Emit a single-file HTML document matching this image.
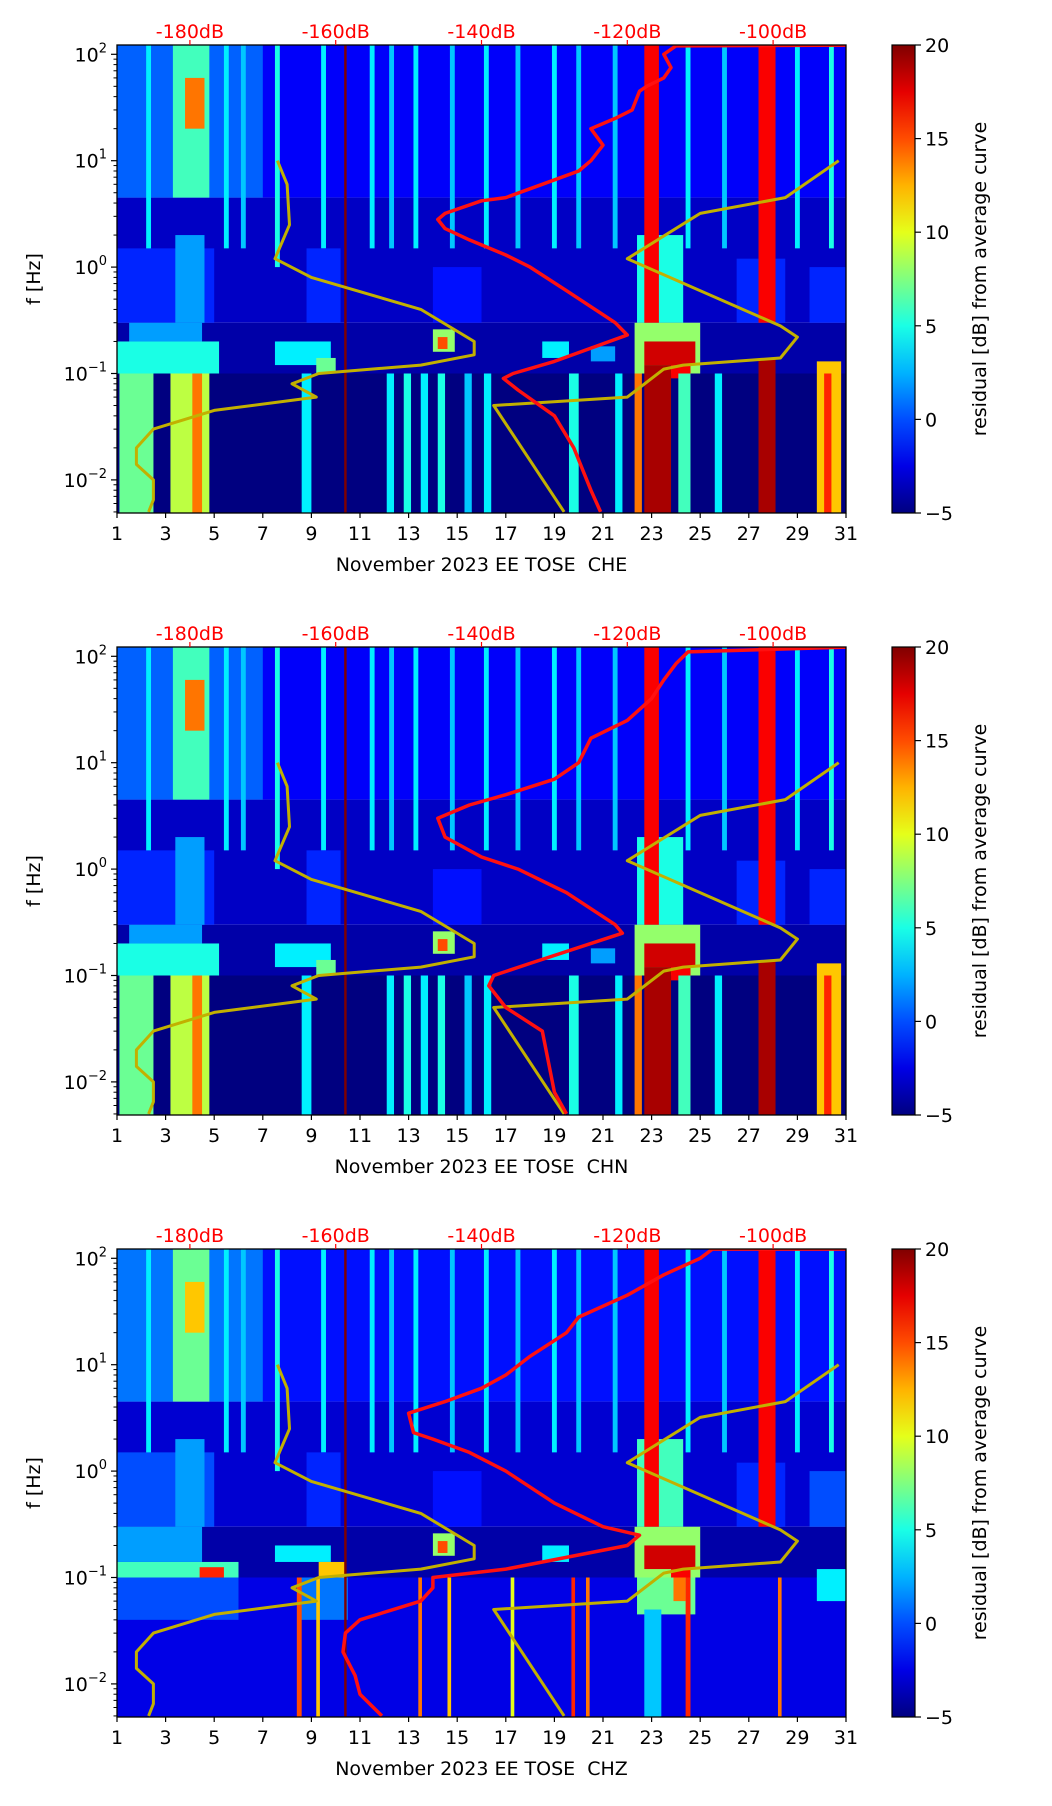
<!DOCTYPE html>
<html><head><meta charset="utf-8">
<style>
html,body{margin:0;padding:0;background:#fff;}
svg{display:block;font-family:"DejaVu Sans","Liberation Sans",sans-serif;}
</style></head>
<body>
<svg id="fig" width="1052" height="1806" viewBox="0 0 1052 1806" xmlns="http://www.w3.org/2000/svg"></svg>
<script>
// ---- data ----
const dayTicks = [1,3,5,7,9,11,13,15,17,19,21,23,25,27,29,31];
const dbTicks = [-180,-160,-140,-120,-100];
const cbTicks = [20,15,10,5,0,-5];
const yDecades = [2,1,0,-1,-2];
const panelTitles = ["November 2023 EE TOSE\u00a0 CHE","November 2023 EE TOSE\u00a0 CHN","November 2023 EE TOSE\u00a0 CHZ"];

// heatmap features: [dayStart, dayEnd, fLow, fHigh, residual dB]
const heat1 = [
 [1,31,4.5,130,-2],[1,31,0.3,4.5,-3.3],[1,31,0.1,0.3,-4],[1,31,0.004,0.1,-5],
 [1,7,4.5,130,0.5],[3.3,4.8,4.5,130,6],[3.8,4.6,20,60,14],
 [2.2,2.4,1,130,4],[5.4,5.6,1.5,130,4],[6.1,6.3,1.5,130,3],[7.5,7.7,1,130,5],[9.4,9.6,1.5,130,4],[11.4,11.6,1.5,130,4],
 [12.2,12.4,1.5,130,3],[13.2,13.4,1.5,130,4],[14.7,14.9,1.5,130,3],[16.1,16.3,1.5,130,4],[17.4,17.6,1.5,130,3],[18.9,19.1,1.5,130,4],
 [19.9,20.1,1.5,130,3],[21.4,21.6,1.5,130,3],[24.4,24.6,1.5,130,4],[25.9,26.1,1.5,130,3],[28.9,29.1,1.5,130,4],[30.3,30.5,1.5,130,5],
 [1,5,0.3,1.5,-1],[3.4,4.6,0.3,2,2],[8.8,10.2,0.3,1.5,-1],[14,16,0.3,1,-1.5],[22.4,24.3,0.3,2,5],[26.5,28.5,0.3,1.2,-1],[29.5,31,0.3,1,-1],
 [1,5.2,0.1,0.2,5],[1.5,4.5,0.2,0.3,2],[7.5,9.8,0.12,0.2,4],[9.2,10,0.1,0.14,7],[14,14.9,0.16,0.26,8],[14.2,14.6,0.17,0.22,15],
 [18.5,19.6,0.14,0.2,4],[20.5,21.5,0.13,0.18,2],[22.3,25,0.1,0.3,8],[22.7,24.8,0.12,0.2,18],[23.8,24.6,0.09,0.12,17],
 [1.1,2.5,0.004,0.1,7],[3.2,4.8,0.004,0.1,9],[4.1,4.5,0.004,0.1,14],[8.6,9,0.004,0.1,4],[12.1,12.4,0.004,0.1,4],[12.8,13.1,0.004,0.1,5],
 [13.5,13.8,0.004,0.1,4],[14.2,14.5,0.004,0.1,5],[15.3,15.6,0.004,0.1,3],[16.1,16.4,0.004,0.1,4],[19.6,20,0.004,0.1,5],[21.5,21.8,0.004,0.1,4],
 [22.3,22.6,0.004,0.1,14],[22.7,23.8,0.004,0.12,19],[24.1,24.6,0.004,0.1,6],[25.6,25.9,0.004,0.1,4],[27.4,28.1,0.004,0.14,19],
 [29.8,30.8,0.004,0.13,12],[30.1,30.4,0.004,0.1,16],
 [22.7,23.3,0.3,130,17],[27.4,28.1,0.3,130,17],[10.35,10.45,0.004,130,20]
];
const heat2 = heat1;
const heat3 = [
 [1,31,4.5,130,-1.5],[1,31,0.3,4.5,-3],[1,31,0.1,0.3,-4],[1,31,0.004,0.1,-2.5],
 [1,7,4.5,130,1],[3.3,4.8,4.5,130,7],[3.8,4.6,20,60,12],
 [2.2,2.4,1,130,4],[5.4,5.6,1.5,130,4],[6.1,6.3,1.5,130,3],[7.5,7.7,1,130,5],[9.4,9.6,1.5,130,4],[11.4,11.6,1.5,130,4],
 [12.2,12.4,1.5,130,3],[13.2,13.4,1.5,130,4],[14.7,14.9,1.5,130,3],[16.1,16.3,1.5,130,4],[17.4,17.6,1.5,130,3],[18.9,19.1,1.5,130,4],
 [19.9,20.1,1.5,130,3],[21.4,21.6,1.5,130,3],[24.4,24.6,1.5,130,4],[25.9,26.1,1.5,130,3],[28.9,29.1,1.5,130,4],[30.3,30.5,1.5,130,5],
 [1,5,0.3,1.5,0],[3.4,4.6,0.3,2,2],[8.8,10.2,0.3,1.5,-1],[14,16,0.3,1,-1.5],[22.4,24.3,0.3,2,6],[26.5,28.5,0.3,1.2,-1],[29.5,31,0.3,1,0],
 [1,6,0.1,0.14,6],[1,4.5,0.14,0.3,2],[4.4,5.4,0.1,0.125,16],[7.5,9.8,0.14,0.2,4],[9.3,10.4,0.1,0.14,12],[14,14.9,0.16,0.26,8],
 [14.2,14.6,0.17,0.22,15],[18.5,19.6,0.14,0.2,4],[22.3,25,0.1,0.3,8],[22.7,24.8,0.12,0.2,18],[23.8,24.6,0.09,0.12,17],
 [22.4,24.8,0.045,0.1,7],[23.9,24.4,0.06,0.1,14],[1,6,0.04,0.1,0],[8.5,10.5,0.04,0.1,1],[29.8,31,0.06,0.12,4],
 [8.4,8.6,0.004,0.1,15],[9.2,9.35,0.004,0.1,12],[13.4,13.55,0.004,0.1,14],[14.6,14.75,0.004,0.1,12],[17.2,17.35,0.004,0.1,10],
 [19.7,19.85,0.004,0.1,16],[20.3,20.45,0.004,0.1,14],[22.7,23.4,0.004,0.05,3],[24.4,24.6,0.004,0.1,16],[28.2,28.35,0.004,0.1,14],
 [22.7,23.3,0.3,130,17],[27.4,28.1,0.3,130,17],[10.35,10.45,0.004,130,20]
];

// red curves: day and frequency
const red1Day  = [20.9,20.5,19.8,19,17.5,16.9,17.3,19,22,21.5,19.5,18,17,15.5,14.5,14.2,14.5,16,17,18.5,20,20.5,21,20.5,21.5,22.2,22.5,22.8,23.5,23.8,23.5,24,31];
const red1Freq = [0.005,0.008,0.02,0.04,0.07,0.09,0.1,0.13,0.23,0.3,0.6,1,1.3,1.8,2.3,2.8,3.2,4.2,4.5,6,8,10,14,20,25,30,45,50,60,75,100,120,122];
const red2Day  = [19.5,19,18.5,17,16.3,16.5,18,21.8,21.5,19.5,17.5,16,14.5,14.2,15.5,17,19,20,20.5,22,23,23.5,24,24.5,31];
const red2Freq = [0.005,0.008,0.03,0.05,0.08,0.1,0.13,0.25,0.3,0.6,1,1.3,2,3,4,5,7,10,17,25,40,60,85,110,122];
const red3Day  = [11.9,11,10.8,10.3,10.4,11,13.5,14,14,17,22,22.5,21,19,17,15.5,14,13.2,13,14.5,16,17,18,19.5,20,22,23.5,25,25.5,31];
const red3Freq = [0.005,0.008,0.012,0.02,0.03,0.04,0.06,0.08,0.1,0.12,0.2,0.25,0.3,0.5,1,1.5,2,2.3,3.5,4.5,6,8,12,20,28,45,70,100,122,122];
// yellow curves
const yelADay  = [2.3,2.5,2.5,1.8,1.8,2.5,5,9.2,8.2,9.3,13.5,15.7,15.7,13.5,9,7.5,8.1,8,7.6];
const yelAFreq = [0.005,0.0065,0.01,0.014,0.02,0.03,0.045,0.06,0.08,0.1,0.12,0.15,0.2,0.4,0.8,1.2,2.5,6,10];
const yelBDay  = [19.4,16.5,22,23.5,24.3,28.3,29,28.3,22,25,28.5,30.7];
const yelBFreq = [0.005,0.05,0.06,0.11,0.12,0.14,0.22,0.28,1.2,3.2,4.5,10];

// ---- layout ----
const NS = "http://www.w3.org/2000/svg";
const svg = document.getElementById('fig');
const L = 117, R = 846, PH = 468, STEP = 602;
const CBL = 892, CBR = 915;
function xDay(d){ return L + (d-1)/30*(R-L); }
function xDb(db){ return xDay(4 + (db+180)*6/20); }
function yFreq(top,f){ return top + 9.3 + (2 - Math.log10(f))*106.4; }
function jet(v){
  let t = (v+5)/25; t = Math.max(0,Math.min(1,t));
  const c = x => Math.max(0,Math.min(1,x));
  const r = c(1.5 - Math.abs(4*t-3)), g = c(1.5 - Math.abs(4*t-2)), b = c(1.5 - Math.abs(4*t-1));
  return `rgb(${Math.round(r*255)},${Math.round(g*255)},${Math.round(b*255)})`;
}
function el(tag, attrs, parent){
  const e = document.createElementNS(NS, tag);
  for (const k in attrs) e.setAttribute(k, attrs[k]);
  (parent||svg).appendChild(e); return e;
}
const heats = [heat1, heat2, heat3];
const reds = [[red1Day,red1Freq],[red2Day,red2Freq],[red3Day,red3Freq]];

for (let p=0; p<3; p++){
  const top = 45 + p*STEP, bot = top + PH;
  const g = el('g', {});
  
  
  const clipId = 'clip'+p;
  const cp = el('clipPath', {id: clipId}, g);
  el('rect', {x:L, y:top, width:R-L, height:PH}, cp);
  const hm = el('g', {'clip-path':`url(#${clipId})`}, g);
  
  
  for (const h of heats[p]){
    const x0 = xDay(h[0]), x1 = xDay(h[1]);
    const y0 = yFreq(top, h[3]), y1 = yFreq(top, h[2]);
    const r = el('rect', {x:x0, y:y0, width:Math.max(1,x1-x0), height:y1-y0, fill:jet(h[4])}, hm);
    
    
  }
  const line = (ds, fs, color, name, w) => {
    const pts = ds.map((d,i)=> xDay(d).toFixed(1)+','+yFreq(top,fs[i]).toFixed(1)).join(' ');
    const pl = el('polyline', {points:pts, fill:'none', stroke:color, 'stroke-width':w, 'stroke-linejoin':'round'}, hm);
    
    
  };
  line(yelADay, yelAFreq, '#c2b000', 'average-curve-left', 3);
  line(yelBDay, yelBFreq, '#c2b000', 'average-curve-right', 3);
  line(reds[p][0], reds[p][1], '#ff1010', 'psd-curve', 3.5);
  const fr = el('rect', {x:L, y:top, width:R-L, height:PH, fill:'none', stroke:'#000', 'stroke-width':1.3}, g);
  
  
  for (const d of dayTicks){
    const x = xDay(d);
    el('line', {x1:x, x2:x, y1:bot, y2:bot+5, stroke:'#000', 'stroke-width':1.2}, g);
    const t = el('text', {x:x, y:bot+27, 'font-size':19, 'text-anchor':'middle', fill:'#000'}, g);
    t.textContent = d;
    
    
  }
  for (const db of dbTicks){
    const x = xDb(db);
    el('line', {x1:x, x2:x, y1:top, y2:top-5, stroke:'#ff0000', 'stroke-width':1.2}, g);
    const t = el('text', {x:x, y:top-7, 'font-size':19, 'text-anchor':'middle', fill:'#ff0000'}, g);
    t.textContent = db + 'dB';
    
    
  }
  for (const e of yDecades){
    const y = yFreq(top, Math.pow(10,e));
    el('line', {x1:L, x2:L-6, y1:y, y2:y, stroke:'#000', 'stroke-width':1.2}, g);
    const t = el('text', {x:L-10, y:y+7, 'font-size':19, 'text-anchor':'end', fill:'#000'}, g);
    
    
    t.innerHTML = '10<tspan dy="-9" font-size="13">' + (e<0 ? '\u2212'+(-e) : e) + '</tspan>';
  }
  for (let e=-3; e<3; e++){
    for (let m=2; m<10; m++){
      const f = m*Math.pow(10,e);
      const y = yFreq(top, f);
      if (y < top || y > bot) continue;
      el('line', {x1:L, x2:L-3.5, y1:y, y2:y, stroke:'#000', 'stroke-width':1}, g);
    }
  }
  const yl = el('text', {x:0, y:0, 'font-size':19, 'text-anchor':'middle', transform:`translate(40,${top+PH/2}) rotate(-90)`}, g);
  yl.textContent = 'f [Hz]';
  
  
  const xl = el('text', {x:(L+R)/2, y:bot+58, 'font-size':19, 'text-anchor':'middle'}, g);
  xl.textContent = panelTitles[p];
  
  
  const defs = el('defs', {}, g);
  const gid = 'cbg'+p;
  const lg = el('linearGradient', {id:gid, x1:0, y1:1, x2:0, y2:0}, defs);
  for (let i=0;i<=10;i++){ el('stop', {offset:i/10, 'stop-color':jet(-5+i*2.5)}, lg); }
  const cb = el('rect', {x:CBL, y:top, width:CBR-CBL, height:PH, fill:`url(#${gid})`, stroke:'#000', 'stroke-width':1.2}, g);
  
  
  for (const v of cbTicks){
    const y = bot - (v+5)/25*PH;
    el('line', {x1:CBR, x2:CBR+6, y1:y, y2:y, stroke:'#000', 'stroke-width':1.2}, g);
    const t = el('text', {x:CBR+10, y:y+7, 'font-size':19, fill:'#000'}, g);
    t.textContent = v<0 ? '\u2212'+(-v) : v;
    
    
  }
  const cl = el('text', {x:0, y:0, 'font-size':19, 'text-anchor':'middle', transform:`translate(986,${top+PH/2}) rotate(-90)`}, g);
  cl.textContent = 'residual [dB] from average curve';
  
  
}
</script>
</body></html>
